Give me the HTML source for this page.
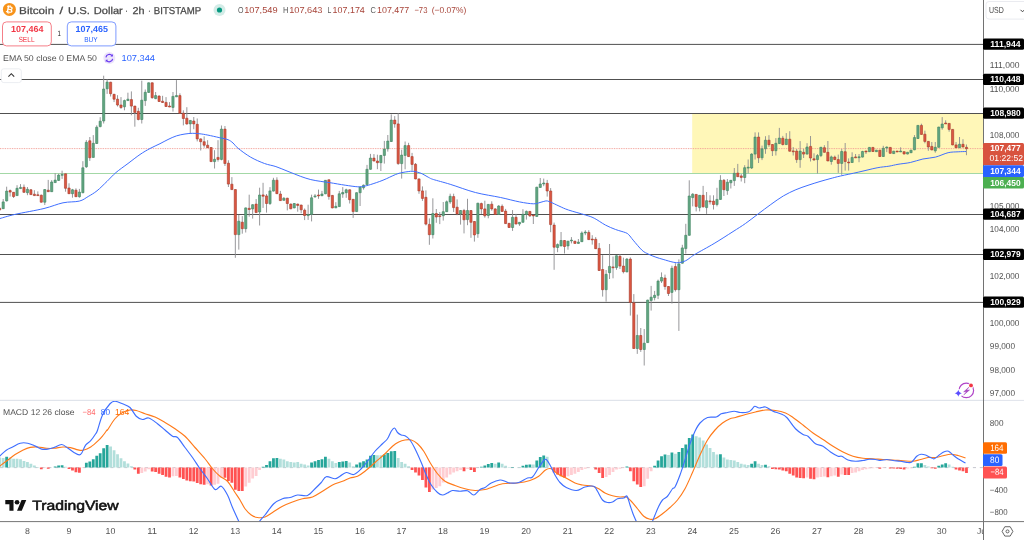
<!DOCTYPE html><html><head><meta charset="utf-8"><title>BTCUSD</title><style>html,body{margin:0;padding:0;background:#fff}svg{display:block;will-change:transform}text{text-rendering:geometricPrecision}</style></head><body>
<svg width="1024" height="540" viewBox="0 0 1024 540" font-family="Liberation Sans, sans-serif">
<defs><clipPath id="cm"><rect x="0" y="0" width="983" height="400"/></clipPath><clipPath id="cd"><rect x="0" y="401" width="983" height="120.5"/></clipPath></defs>
<rect width="1024" height="540" fill="#fff"/>
<g clip-path="url(#cm)">
<rect x="692.2" y="114" width="292" height="59.4" fill="#fff7b8"/>
<line x1="0" x2="984" y1="44.4" y2="44.4" stroke="#505050" stroke-width="1"/>
<line x1="0" x2="984" y1="79.5" y2="79.5" stroke="#505050" stroke-width="1"/>
<line x1="0" x2="984" y1="113.5" y2="113.5" stroke="#505050" stroke-width="1"/>
<line x1="0" x2="984" y1="214.5" y2="214.5" stroke="#505050" stroke-width="1"/>
<line x1="0" x2="984" y1="254.5" y2="254.5" stroke="#505050" stroke-width="1"/>
<line x1="0" x2="984" y1="302.4" y2="302.4" stroke="#505050" stroke-width="1"/>
<line x1="0" x2="984" y1="173.5" y2="173.5" stroke="#a3d8a6" stroke-width="1.2"/>
<line x1="0" x2="984" y1="148.6" y2="148.6" stroke="#f19a92" stroke-width="1" stroke-dasharray="0.85 0.87"/>
<path d="M-0.28 207.0V211.0M3.19 199.0V209.0M6.65 186.7V201.5M10.11 189.5V196.5M13.58 192.0V198.0M17.05 185.2V196.0M20.51 184.1V189.0M23.97 184.5V193.0M27.44 187.0V195.2M30.91 189.0V195.0M34.37 190.2V196.0M37.83 191.4V196.0M41.30 194.6V202.5M44.77 189.0V205.0M48.23 179.9V192.0M51.69 180.1V192.0M55.16 173.2V183.0M58.62 173.8V181.0M62.09 170.7V178.9M65.55 173.5V191.7M69.02 183.3V194.0M72.48 188.9V197.7M75.95 188.3V197.0M79.41 188.9V197.7M82.88 161.2V193.3M86.34 140.1V167.9M89.81 137.0V160.9M93.27 135.1V157.6M96.74 125.3V144.0M100.20 117.2V127.3M103.67 75.7V123.5M107.13 79.4V93.9M110.60 81.8V96.5M114.06 93.9V102.1M117.53 95.2V106.5M120.99 97.1V108.9M124.46 99.6V110.3M127.92 92.7V101.0M131.39 91.4V115.3M134.85 105.8V126.7M138.32 107.8V120.4M141.78 80.7V123.5M145.25 89.5V105.9M148.71 82.5V93.0M152.18 82.5V98.7M155.64 92.0V99.2M159.11 95.2V102.0M162.57 95.8V103.0M166.04 97.1V107.0M169.50 102.1V107.2M172.97 92.0V111.6M176.44 80.1V97.1M179.90 93.3V113.5M183.37 110.3V125.4M186.83 107.2V124.8M190.29 120.0V133.0M193.76 117.0V129.2M197.22 118.5V141.4M200.69 138.3V150.5M204.15 136.4V147.7M207.62 140.2V148.0M211.08 147.2V162.0M214.55 150.2V168.5M218.01 140.2V161.6M221.48 125.5V160.3M224.94 126.0V166.0M228.41 160.3V187.0M231.88 177.1V190.0M235.34 189.3V257.8M238.80 214.8V249.6M242.27 216.1V233.7M245.73 207.5V232.5M249.20 194.7V216.7M252.66 204.2V218.6M256.13 199.1V213.0M259.60 187.7V225.5M263.06 182.8V207.9M266.52 194.0V212.6M269.99 187.1V205.0M273.45 177.8V191.5M276.92 177.3V194.0M280.38 190.9V201.0M283.85 197.2V200.8M287.31 197.8V210.4M290.78 203.5V209.2M294.25 203.0V208.3M297.71 203.6V211.7M301.17 204.6V213.3M304.64 208.5V220.1M308.11 204.7V219.9M311.57 194.7V221.4M315.03 194.0V197.8M318.50 189.6V198.8M321.96 190.9V196.2M325.43 180.0V194.2M328.89 179.5V199.7M332.36 195.0V208.3M335.82 202.2V208.2M339.29 190.9V207.0M342.75 187.1V197.8M346.22 188.7V197.8M349.68 189.4V203.5M353.15 199.0V217.9M356.62 192.3V212.0M360.08 186.7V206.0M363.54 184.5V189.6M367.01 164.9V185.0M370.48 153.9V169.7M373.94 154.1V161.4M377.40 154.7V169.2M380.87 155.0V171.0M384.34 140.9V163.6M387.80 135.0V151.6M391.26 114.4V142.0M394.73 116.1V127.7M398.19 113.2V164.8M401.66 149.7V178.6M405.12 141.5V169.3M408.59 142.8V157.0M412.05 152.9V170.7M415.52 163.0V179.3M418.99 178.5V193.8M422.45 186.4V200.9M425.91 190.4V225.4M429.38 218.4V244.8M432.85 198.3V238.5M436.31 209.0V222.8M439.77 212.0V224.1M443.24 202.0V220.6M446.70 200.5V212.0M450.17 193.7V203.8M453.63 193.7V212.0M457.10 199.4V215.2M460.56 210.0V224.6M464.03 208.9V233.4M467.50 198.8V225.2M470.96 210.0V237.8M474.42 221.0V241.6M477.89 202.8V237.8M481.36 202.6V213.9M484.82 200.7V217.7M488.28 204.0V218.3M491.75 201.3V210.7M495.22 208.2V215.0M498.68 205.1V215.0M502.14 204.4V211.8M505.61 208.9V224.0M509.07 223.0V228.0M512.54 210.1V230.9M516.00 213.9V224.4M519.47 222.0V225.9M522.93 209.2V222.7M526.40 210.5V219.6M529.87 211.0V217.0M533.33 214.8V224.0M536.79 186.8V216.8M540.26 178.0V187.8M543.73 178.6V186.2M547.19 179.9V196.6M550.65 188.1V232.2M554.12 222.6V269.8M557.58 243.4V252.2M561.05 232.0V246.3M564.51 240.0V253.5M567.98 240.8V249.7M571.44 237.1V243.4M574.91 240.8V243.8M578.38 239.0V243.8M581.84 231.4V242.0M585.30 230.2V235.2M588.77 230.2V240.0M592.24 235.2V244.6M595.70 237.1V249.0M599.16 243.0V271.0M602.63 255.2V296.6M606.10 270.0V301.6M609.56 244.0V279.0M613.02 256.5V278.3M616.49 255.3V269.8M619.95 254.3V269.0M623.42 257.7V273.4M626.88 258.0V272.3M630.35 257.4V315.6M633.82 294.1V348.9M637.28 314.6V353.9M640.75 328.0V351.9M644.21 329.0V365.5M647.67 299.7V343.0M651.14 285.9V310.6M654.61 290.9V300.4M658.07 279.6V299.1M661.53 272.4V283.0M665.00 274.6V289.7M668.47 286.0V296.0M671.93 265.7V303.5M675.39 263.2V291.6M678.86 259.4V330.9M682.33 244.8V263.6M685.79 223.8V253.6M689.25 180.3V235.7M692.72 193.1V206.4M696.18 194.0V211.4M699.65 195.0V211.4M703.12 185.9V207.6M706.58 192.0V213.9M710.04 195.3V204.5M713.51 195.3V209.5M716.98 187.8V206.4M720.44 175.2V199.8M723.90 179.0V196.0M727.37 179.0V194.8M730.84 180.0V188.5M734.30 168.0V185.9M737.76 163.9V177.0M741.23 174.0V181.5M744.70 165.2V183.2M748.16 159.5V173.3M751.62 153.2V169.0M755.09 132.4V159.5M758.55 132.4V163.0M762.02 145.6V160.1M765.49 136.2V153.8M768.95 135.2V146.9M772.41 144.0V156.0M775.88 138.1V155.5M779.35 127.9V144.0M782.81 135.9V145.5M786.27 133.1V145.0M789.74 131.2V151.6M793.21 147.1V155.5M796.67 149.0V162.9M800.13 141.1V167.8M803.60 148.8V158.0M807.06 143.2V154.5M810.53 136.0V161.5M814.00 153.3V160.9M817.46 154.0V173.5M820.92 146.9V157.1M824.39 145.2V152.7M827.86 141.0V161.3M831.32 155.6V164.7M834.78 155.6V160.0M838.25 154.6V172.9M841.72 148.9V174.8M845.18 143.0V170.6M848.64 158.4V170.6M852.11 152.3V162.9M855.58 154.0V158.1M859.04 154.0V162.2M862.50 150.8V157.5M865.97 150.8V154.0M869.43 147.0V152.0M872.90 147.0V152.0M876.37 149.8V152.0M879.83 149.8V156.9M883.29 145.8V156.9M886.76 146.4V152.1M890.23 147.0V153.7M893.69 150.8V154.0M897.15 150.8V152.2M900.62 147.3V152.1M904.09 151.3V154.4M907.55 151.9V154.4M911.01 149.8V153.1M914.48 135.1V150.2M917.94 125.0V139.0M921.41 123.7V134.8M924.88 130.7V143.3M928.34 141.0V150.8M931.80 142.0V150.3M935.27 142.0V152.7M938.74 126.7V147.7M942.20 117.1V129.7M945.66 120.3V124.0M949.13 123.0V131.7M952.60 129.0V145.3M956.06 142.0V148.1M959.52 137.0V148.1M962.99 139.2V147.4M966.46 144.5V155.2" stroke="#8c8c90" stroke-width="0.9" fill="none"/>
<path d="M2.09 201.9h2.2V208.7h-2.2zM5.55 191.1h2.2V200.9h-2.2zM15.95 188.3h2.2V195.6h-2.2zM19.41 187.4h2.2V188.6h-2.2zM26.34 189.3h2.2V192.7h-2.2zM43.66 189.6h2.2V202.2h-2.2zM50.59 182.0h2.2V191.7h-2.2zM54.06 180.1h2.2V182.6h-2.2zM57.52 175.1h2.2V180.4h-2.2zM60.99 174.4h2.2V175.3h-2.2zM71.39 189.8h2.2V193.7h-2.2zM78.31 192.1h2.2V196.7h-2.2zM81.78 167.8h2.2V192.7h-2.2zM85.25 142.3h2.2V166.8h-2.2zM92.17 143.3h2.2V157.4h-2.2zM95.64 127.2h2.2V143.5h-2.2zM99.11 121.2h2.2V126.6h-2.2zM102.57 89.0h2.2V121.0h-2.2zM106.03 82.1h2.2V88.8h-2.2zM123.36 100.6h2.2V106.8h-2.2zM126.83 99.2h2.2V100.6h-2.2zM140.69 100.2h2.2V119.5h-2.2zM144.15 92.3h2.2V100.6h-2.2zM147.61 82.8h2.2V92.4h-2.2zM154.54 95.6h2.2V98.6h-2.2zM171.87 96.4h2.2V107.4h-2.2zM175.34 95.6h2.2V96.8h-2.2zM189.19 120.4h2.2V123.9h-2.2zM213.45 159.3h2.2V161.6h-2.2zM220.38 129.1h2.2V159.4h-2.2zM237.70 221.2h2.2V234.6h-2.2zM244.63 207.9h2.2V228.7h-2.2zM251.56 204.7h2.2V208.9h-2.2zM258.50 195.0h2.2V212.0h-2.2zM268.89 190.9h2.2V203.5h-2.2zM272.35 180.2h2.2V191.1h-2.2zM282.75 198.2h2.2V200.3h-2.2zM293.14 203.5h2.2V207.9h-2.2zM307.00 214.6h2.2V215.6h-2.2zM310.47 197.8h2.2V214.4h-2.2zM313.93 195.9h2.2V196.8h-2.2zM320.86 194.0h2.2V195.7h-2.2zM324.33 180.3h2.2V193.8h-2.2zM334.72 206.3h2.2V207.8h-2.2zM338.19 193.8h2.2V206.6h-2.2zM341.65 192.5h2.2V194.0h-2.2zM345.12 189.8h2.2V192.7h-2.2zM355.51 192.7h2.2V211.6h-2.2zM358.98 187.1h2.2V192.7h-2.2zM362.44 185.2h2.2V187.7h-2.2zM365.91 169.3h2.2V184.6h-2.2zM369.38 158.1h2.2V169.3h-2.2zM379.77 155.4h2.2V162.7h-2.2zM383.24 149.1h2.2V155.4h-2.2zM386.70 141.1h2.2V148.8h-2.2zM390.16 120.1h2.2V141.5h-2.2zM400.56 155.1h2.2V163.6h-2.2zM404.02 145.6h2.2V155.4h-2.2zM431.75 213.6h2.2V234.7h-2.2zM442.14 211.7h2.2V215.7h-2.2zM445.60 201.8h2.2V211.7h-2.2zM449.07 196.3h2.2V201.9h-2.2zM459.46 210.5h2.2V213.9h-2.2zM466.39 210.5h2.2V219.6h-2.2zM476.79 203.2h2.2V233.7h-2.2zM487.18 204.4h2.2V215.5h-2.2zM497.58 206.0h2.2V214.5h-2.2zM511.44 217.3h2.2V227.5h-2.2zM518.37 222.3h2.2V224.0h-2.2zM521.83 214.3h2.2V222.3h-2.2zM525.30 211.4h2.2V214.5h-2.2zM535.69 187.2h2.2V216.4h-2.2zM539.16 184.0h2.2V187.4h-2.2zM542.62 183.0h2.2V184.0h-2.2zM556.48 244.6h2.2V247.5h-2.2zM559.95 240.5h2.2V245.9h-2.2zM566.88 241.2h2.2V245.9h-2.2zM570.34 240.1h2.2V240.9h-2.2zM577.27 242.1h2.2V243.4h-2.2zM580.74 233.0h2.2V241.7h-2.2zM584.20 232.1h2.2V233.0h-2.2zM605.00 274.3h2.2V289.7h-2.2zM608.46 266.4h2.2V272.7h-2.2zM615.39 255.7h2.2V267.6h-2.2zM625.78 259.1h2.2V271.9h-2.2zM636.18 335.5h2.2V348.5h-2.2zM643.11 343.2h2.2V349.5h-2.2zM646.57 300.1h2.2V342.6h-2.2zM650.04 297.2h2.2V300.4h-2.2zM653.50 295.3h2.2V297.6h-2.2zM656.97 281.1h2.2V295.3h-2.2zM660.43 277.5h2.2V281.1h-2.2zM670.83 268.3h2.2V292.4h-2.2zM677.76 263.9h2.2V289.7h-2.2zM681.23 247.9h2.2V263.2h-2.2zM684.69 235.3h2.2V248.6h-2.2zM688.15 196.0h2.2V235.3h-2.2zM691.62 194.2h2.2V197.6h-2.2zM698.55 195.3h2.2V207.6h-2.2zM705.48 200.7h2.2V207.6h-2.2zM715.88 199.4h2.2V204.5h-2.2zM719.34 180.3h2.2V199.4h-2.2zM726.27 182.2h2.2V190.6h-2.2zM729.74 180.3h2.2V182.8h-2.2zM733.20 173.3h2.2V180.6h-2.2zM743.60 167.7h2.2V177.5h-2.2zM747.06 167.2h2.2V168.1h-2.2zM750.52 154.1h2.2V168.0h-2.2zM753.99 137.1h2.2V154.1h-2.2zM760.92 148.8h2.2V157.8h-2.2zM764.38 140.2h2.2V148.8h-2.2zM774.78 143.3h2.2V150.7h-2.2zM778.25 138.1h2.2V143.6h-2.2zM785.17 139.1h2.2V144.6h-2.2zM799.03 151.1h2.2V159.6h-2.2zM805.96 147.0h2.2V154.1h-2.2zM816.36 155.6h2.2V159.6h-2.2zM819.82 147.3h2.2V155.6h-2.2zM830.22 156.9h2.2V161.5h-2.2zM840.62 151.5h2.2V163.4h-2.2zM851.01 157.4h2.2V162.5h-2.2zM857.94 156.8h2.2V157.7h-2.2zM861.40 151.5h2.2V157.1h-2.2zM868.33 147.4h2.2V151.7h-2.2zM875.26 150.2h2.2V151.7h-2.2zM882.19 148.3h2.2V156.5h-2.2zM885.66 147.1h2.2V148.0h-2.2zM892.59 151.2h2.2V153.6h-2.2zM899.52 151.0h2.2V151.9h-2.2zM906.45 152.3h2.2V154.0h-2.2zM909.91 150.2h2.2V152.7h-2.2zM913.38 137.6h2.2V149.8h-2.2zM916.84 125.4h2.2V138.5h-2.2zM934.17 147.3h2.2V150.8h-2.2zM937.63 127.1h2.2V147.3h-2.2zM941.10 124.0h2.2V127.8h-2.2zM958.42 144.3h2.2V147.7h-2.2z" fill="#62a682" stroke="#3f8461" stroke-width="0.6"/>
<path d="M-1.38 208.5h2.2V209.7h-2.2zM9.01 190.6h2.2V192.1h-2.2zM12.48 192.3h2.2V196.5h-2.2zM22.87 187.3h2.2V192.3h-2.2zM29.80 189.8h2.2V194.6h-2.2zM33.27 194.2h2.2V195.6h-2.2zM36.73 194.8h2.2V195.6h-2.2zM40.20 195.2h2.2V202.2h-2.2zM47.13 190.2h2.2V191.7h-2.2zM64.45 173.8h2.2V188.3h-2.2zM67.92 188.0h2.2V193.7h-2.2zM74.85 190.2h2.2V196.7h-2.2zM88.71 140.8h2.2V157.8h-2.2zM109.50 82.2h2.2V93.7h-2.2zM112.97 94.3h2.2V99.2h-2.2zM116.43 99.2h2.2V105.0h-2.2zM119.89 105.0h2.2V107.5h-2.2zM130.29 99.6h2.2V106.1h-2.2zM133.75 106.1h2.2V112.4h-2.2zM137.22 111.3h2.2V119.5h-2.2zM151.08 82.8h2.2V97.7h-2.2zM158.01 96.1h2.2V101.5h-2.2zM161.47 101.2h2.2V102.5h-2.2zM164.94 102.4h2.2V106.5h-2.2zM168.41 106.0h2.2V107.0h-2.2zM178.80 95.6h2.2V113.2h-2.2zM182.27 113.2h2.2V118.5h-2.2zM185.73 118.2h2.2V123.9h-2.2zM192.66 121.0h2.2V123.9h-2.2zM196.12 124.3h2.2V138.9h-2.2zM199.59 138.9h2.2V141.7h-2.2zM203.05 141.7h2.2V145.2h-2.2zM206.52 145.2h2.2V147.7h-2.2zM209.98 147.5h2.2V161.6h-2.2zM216.91 157.4h2.2V159.4h-2.2zM223.84 129.1h2.2V163.5h-2.2zM227.31 163.2h2.2V184.1h-2.2zM230.78 184.2h2.2V189.6h-2.2zM234.24 189.6h2.2V234.6h-2.2zM241.17 222.2h2.2V228.7h-2.2zM248.10 208.3h2.2V209.5h-2.2zM255.03 204.1h2.2V212.6h-2.2zM261.96 194.9h2.2V196.2h-2.2zM265.42 195.9h2.2V203.5h-2.2zM275.82 180.2h2.2V193.7h-2.2zM279.28 194.0h2.2V200.6h-2.2zM286.21 198.2h2.2V203.5h-2.2zM289.68 204.1h2.2V208.8h-2.2zM296.61 204.1h2.2V205.4h-2.2zM300.07 205.1h2.2V209.8h-2.2zM303.54 210.2h2.2V215.5h-2.2zM317.40 195.0h2.2V195.9h-2.2zM327.79 179.8h2.2V196.4h-2.2zM331.26 195.4h2.2V207.9h-2.2zM348.58 189.8h2.2V199.7h-2.2zM352.05 199.3h2.2V211.6h-2.2zM372.84 158.1h2.2V161.0h-2.2zM376.30 161.0h2.2V162.7h-2.2zM393.63 120.1h2.2V123.9h-2.2zM397.09 123.9h2.2V163.6h-2.2zM407.49 145.6h2.2V156.6h-2.2zM410.95 156.6h2.2V164.4h-2.2zM414.42 164.3h2.2V178.9h-2.2zM417.88 178.9h2.2V190.9h-2.2zM421.35 190.9h2.2V198.4h-2.2zM424.81 197.3h2.2V224.1h-2.2zM428.28 224.4h2.2V234.7h-2.2zM435.21 213.6h2.2V217.0h-2.2zM438.67 215.8h2.2V216.6h-2.2zM452.53 196.6h2.2V207.6h-2.2zM456.00 207.2h2.2V213.9h-2.2zM462.93 210.5h2.2V219.8h-2.2zM469.86 210.5h2.2V222.3h-2.2zM473.32 221.5h2.2V234.9h-2.2zM480.25 203.6h2.2V208.9h-2.2zM483.72 208.9h2.2V215.8h-2.2zM490.65 204.2h2.2V208.9h-2.2zM494.12 208.9h2.2V214.5h-2.2zM501.04 206.3h2.2V211.4h-2.2zM504.51 211.1h2.2V223.6h-2.2zM507.97 223.3h2.2V227.5h-2.2zM514.90 217.3h2.2V224.0h-2.2zM528.76 211.4h2.2V215.8h-2.2zM532.23 215.1h2.2V215.9h-2.2zM546.09 183.3h2.2V191.0h-2.2zM549.55 191.0h2.2V224.6h-2.2zM553.02 225.1h2.2V247.2h-2.2zM563.41 240.5h2.2V246.5h-2.2zM573.81 241.2h2.2V243.4h-2.2zM587.67 232.4h2.2V239.6h-2.2zM591.13 239.1h2.2V239.9h-2.2zM594.60 239.3h2.2V248.7h-2.2zM598.06 248.4h2.2V270.5h-2.2zM601.53 269.5h2.2V289.7h-2.2zM611.92 266.9h2.2V267.8h-2.2zM618.85 256.3h2.2V266.1h-2.2zM622.32 266.1h2.2V271.7h-2.2zM629.25 259.1h2.2V302.4h-2.2zM632.72 302.8h2.2V348.5h-2.2zM639.64 335.5h2.2V349.5h-2.2zM663.90 278.0h2.2V286.5h-2.2zM667.37 286.5h2.2V293.5h-2.2zM674.29 266.6h2.2V289.7h-2.2zM695.08 194.4h2.2V206.4h-2.2zM702.01 195.3h2.2V206.8h-2.2zM708.94 200.9h2.2V201.8h-2.2zM712.41 201.1h2.2V204.5h-2.2zM722.80 180.3h2.2V189.7h-2.2zM736.66 173.1h2.2V176.7h-2.2zM740.13 175.9h2.2V177.4h-2.2zM757.45 137.1h2.2V157.8h-2.2zM767.85 140.2h2.2V144.7h-2.2zM771.31 144.5h2.2V150.7h-2.2zM781.71 138.2h2.2V144.5h-2.2zM788.64 139.2h2.2V151.2h-2.2zM792.11 150.9h2.2V151.8h-2.2zM795.57 151.1h2.2V159.6h-2.2zM802.50 152.3h2.2V154.1h-2.2zM809.43 146.4h2.2V158.0h-2.2zM812.89 158.8h2.2V159.9h-2.2zM823.29 147.7h2.2V152.3h-2.2zM826.75 152.3h2.2V160.9h-2.2zM833.68 157.1h2.2V159.6h-2.2zM837.15 159.6h2.2V163.4h-2.2zM844.08 151.7h2.2V161.5h-2.2zM847.54 162.1h2.2V162.9h-2.2zM854.48 156.9h2.2V157.8h-2.2zM864.87 151.0h2.2V151.9h-2.2zM871.80 147.4h2.2V151.5h-2.2zM878.73 150.2h2.2V156.5h-2.2zM889.12 147.4h2.2V153.3h-2.2zM896.05 151.1h2.2V151.9h-2.2zM902.99 151.7h2.2V154.0h-2.2zM920.31 125.4h2.2V134.4h-2.2zM923.77 134.2h2.2V141.4h-2.2zM927.24 141.4h2.2V147.0h-2.2zM930.70 146.4h2.2V149.9h-2.2zM944.56 123.0h2.2V123.9h-2.2zM948.03 123.4h2.2V129.4h-2.2zM951.50 129.4h2.2V144.9h-2.2zM954.96 144.9h2.2V147.7h-2.2zM961.89 144.3h2.2V147.0h-2.2zM965.36 147.3h2.2V148.7h-2.2z" fill="#dc5742" stroke="#a83a2a" stroke-width="0.6"/>
<path fill="none" stroke="#3f6fff" stroke-width="1" stroke-linejoin="round" d="M-2.00 219.00C-1.67 218.92 -2.83 219.27 0.00 218.50C2.83 217.73 7.67 216.07 15.00 214.40C22.33 212.73 36.00 210.43 44.00 208.50C52.00 206.57 57.12 204.03 63.00 202.80C68.88 201.57 75.10 202.15 79.30 201.10C83.50 200.05 85.25 198.22 88.20 196.50C91.15 194.78 93.87 193.32 97.00 190.80C100.13 188.28 103.85 184.43 107.00 181.40C110.15 178.37 112.40 175.58 115.90 172.60C119.40 169.62 123.98 166.52 128.00 163.50C132.02 160.48 136.33 157.00 140.00 154.50C143.67 152.00 146.67 150.30 150.00 148.50C153.33 146.70 157.00 145.20 160.00 143.70C163.00 142.20 165.27 140.80 168.00 139.50C170.73 138.20 173.57 136.82 176.40 135.90C179.23 134.98 182.28 134.43 185.00 134.00C187.72 133.57 190.20 133.33 192.70 133.30C195.20 133.27 197.47 133.50 200.00 133.80C202.53 134.10 204.70 134.47 207.90 135.10C211.10 135.73 215.85 136.83 219.20 137.60C222.55 138.37 225.70 138.80 228.00 139.70C230.30 140.60 231.32 141.57 233.00 143.00C234.68 144.43 235.15 145.93 238.10 148.30C241.05 150.67 246.30 154.67 250.70 157.20C255.10 159.73 260.30 161.93 264.50 163.50C268.70 165.07 271.98 165.28 275.90 166.60C279.82 167.92 283.87 169.77 288.00 171.40C292.13 173.03 296.90 175.03 300.70 176.40C304.50 177.77 307.45 178.77 310.80 179.60C314.15 180.43 317.60 180.88 320.80 181.40C324.00 181.92 325.93 182.07 330.00 182.70C334.07 183.33 340.57 184.52 345.20 185.20C349.83 185.88 354.67 186.63 357.80 186.80C360.93 186.97 361.90 186.57 364.00 186.20C366.10 185.83 367.23 185.60 370.40 184.60C373.57 183.60 378.80 181.88 383.00 180.20C387.20 178.52 392.43 175.77 395.60 174.50C398.77 173.23 399.90 173.08 402.00 172.60C404.10 172.12 406.33 171.82 408.20 171.60C410.07 171.38 411.10 171.03 413.20 171.30C415.30 171.57 418.20 172.17 420.80 173.20C423.40 174.23 426.70 176.45 428.80 177.50C430.90 178.55 429.83 178.37 433.40 179.50C436.97 180.63 443.20 182.13 450.20 184.30C457.20 186.47 467.00 190.30 475.40 192.50C483.80 194.70 493.25 195.93 500.60 197.50C507.95 199.07 514.05 200.85 519.50 201.90C524.95 202.95 529.88 203.70 533.30 203.80C536.72 203.90 537.90 202.98 540.00 202.50C542.10 202.02 544.40 201.07 545.90 200.90C547.40 200.73 547.82 201.12 549.00 201.50C550.18 201.88 551.17 202.37 553.00 203.20C554.83 204.03 557.43 205.37 560.00 206.50C562.57 207.63 564.17 208.58 568.40 210.00C572.63 211.42 581.10 213.63 585.40 215.00C589.70 216.37 590.85 216.52 594.20 218.20C597.55 219.88 601.93 223.22 605.50 225.10C609.07 226.98 612.23 228.23 615.60 229.50C618.97 230.77 623.47 231.78 625.70 232.70C627.93 233.62 627.75 233.75 629.00 235.00C630.25 236.25 631.02 237.65 633.20 240.20C635.38 242.75 639.57 247.98 642.10 250.30C644.63 252.62 646.10 252.95 648.40 254.10C650.70 255.25 653.45 256.32 655.90 257.20C658.35 258.08 660.22 258.57 663.10 259.40C665.98 260.23 670.47 261.67 673.20 262.20C675.93 262.73 677.40 262.85 679.50 262.60C681.60 262.35 684.05 261.50 685.80 260.70C687.55 259.90 688.43 258.88 690.00 257.80C691.57 256.72 691.18 256.58 695.20 254.20C699.22 251.82 707.80 247.27 714.10 243.50C720.40 239.73 727.75 234.95 733.00 231.60C738.25 228.25 741.40 226.35 745.60 223.40C749.80 220.45 754.00 217.05 758.20 213.90C762.40 210.75 766.60 207.50 770.80 204.50C775.00 201.50 779.22 198.37 783.40 195.90C787.58 193.43 791.80 191.47 795.90 189.70C800.00 187.93 803.98 186.67 808.00 185.30C812.02 183.93 816.33 182.60 820.00 181.50C823.67 180.40 826.58 179.62 830.00 178.70C833.42 177.78 835.80 177.08 840.50 176.00C845.20 174.92 852.10 173.57 858.20 172.20C864.30 170.83 871.98 168.80 877.10 167.80C882.22 166.80 885.42 166.78 888.90 166.20C892.38 165.62 894.43 164.92 898.00 164.30C901.57 163.68 906.15 163.38 910.30 162.50C914.45 161.62 918.70 159.90 922.90 159.00C927.10 158.10 931.30 158.15 935.50 157.10C939.70 156.05 944.32 153.58 948.10 152.70C951.88 151.82 955.22 152.00 958.20 151.80C961.18 151.60 964.70 151.55 966.00 151.50"/>
</g>
<g clip-path="url(#cd)">
<line x1="0" x2="984" y1="467.6" y2="467.6" stroke="#bfc1c8" stroke-width="0.9" stroke-dasharray="3.1 3.8"/>
<path d="M5.25 456.70h2.8V467.50h-2.8zM53.76 466.50h2.8V467.50h-2.8zM57.23 465.60h2.8V467.50h-2.8zM60.69 465.30h2.8V467.50h-2.8zM84.94 462.70h2.8V467.50h-2.8zM88.41 461.50h2.8V467.50h-2.8zM91.87 459.20h2.8V467.50h-2.8zM95.34 455.80h2.8V467.50h-2.8zM98.80 453.30h2.8V467.50h-2.8zM102.27 448.30h2.8V467.50h-2.8zM105.73 445.10h2.8V467.50h-2.8zM261.66 466.75h2.8V467.50h-2.8zM265.12 465.00h2.8V467.50h-2.8zM268.59 461.25h2.8V467.50h-2.8zM272.06 458.25h2.8V467.50h-2.8zM275.52 458.00h2.8V467.50h-2.8zM310.17 462.50h2.8V467.50h-2.8zM313.63 461.25h2.8V467.50h-2.8zM317.10 460.00h2.8V467.50h-2.8zM320.56 459.25h2.8V467.50h-2.8zM324.03 456.75h2.8V467.50h-2.8zM337.89 462.00h2.8V467.50h-2.8zM341.36 461.50h2.8V467.50h-2.8zM344.82 461.00h2.8V467.50h-2.8zM355.22 464.50h2.8V467.50h-2.8zM358.68 462.50h2.8V467.50h-2.8zM362.14 461.25h2.8V467.50h-2.8zM365.61 459.50h2.8V467.50h-2.8zM369.08 455.75h2.8V467.50h-2.8zM372.54 455.00h2.8V467.50h-2.8zM382.94 454.50h2.8V467.50h-2.8zM386.40 453.00h2.8V467.50h-2.8zM389.87 451.25h2.8V467.50h-2.8zM393.33 451.00h2.8V467.50h-2.8zM479.96 466.75h2.8V467.50h-2.8zM483.42 465.50h2.8V467.50h-2.8zM486.88 464.00h2.8V467.50h-2.8zM490.35 463.00h2.8V467.50h-2.8zM497.28 462.50h2.8V467.50h-2.8zM511.14 467.00h2.8V467.50h-2.8zM521.53 465.75h2.8V467.50h-2.8zM525.00 464.75h2.8V467.50h-2.8zM528.47 464.50h2.8V467.50h-2.8zM535.39 460.50h2.8V467.50h-2.8zM538.86 457.00h2.8V467.50h-2.8zM542.33 455.50h2.8V467.50h-2.8zM625.49 466.50h2.8V467.50h-2.8zM653.21 465.75h2.8V467.50h-2.8zM656.67 460.50h2.8V467.50h-2.8zM660.13 456.25h2.8V467.50h-2.8zM663.60 454.50h2.8V467.50h-2.8zM670.53 452.50h2.8V467.50h-2.8zM677.46 452.00h2.8V467.50h-2.8zM680.93 448.00h2.8V467.50h-2.8zM684.39 444.50h2.8V467.50h-2.8zM687.86 438.00h2.8V467.50h-2.8zM691.32 434.50h2.8V467.50h-2.8zM719.04 454.30h2.8V467.50h-2.8zM750.23 463.75h2.8V467.50h-2.8zM753.69 461.25h2.8V467.50h-2.8zM764.09 464.80h2.8V467.50h-2.8zM913.08 466.75h2.8V467.50h-2.8zM916.54 463.25h2.8V467.50h-2.8zM920.01 463.20h2.8V467.50h-2.8zM937.34 465.75h2.8V467.50h-2.8zM940.80 464.50h2.8V467.50h-2.8zM944.26 463.25h2.8V467.50h-2.8z" fill="#26a69a"/>
<path d="M-1.68 457.50h2.8V467.50h-2.8zM1.79 458.00h2.8V467.50h-2.8zM8.71 457.50h2.8V467.50h-2.8zM12.18 458.70h2.8V467.50h-2.8zM15.65 458.70h2.8V467.50h-2.8zM19.11 459.20h2.8V467.50h-2.8zM22.57 460.90h2.8V467.50h-2.8zM26.04 462.10h2.8V467.50h-2.8zM29.51 463.75h2.8V467.50h-2.8zM32.97 465.50h2.8V467.50h-2.8zM36.43 466.90h2.8V467.50h-2.8zM64.15 466.80h2.8V467.50h-2.8zM109.20 446.40h2.8V467.50h-2.8zM112.66 450.20h2.8V467.50h-2.8zM116.13 454.20h2.8V467.50h-2.8zM119.59 458.30h2.8V467.50h-2.8zM123.06 461.20h2.8V467.50h-2.8zM126.52 463.40h2.8V467.50h-2.8zM129.99 466.25h2.8V467.50h-2.8zM278.99 458.75h2.8V467.50h-2.8zM282.45 459.50h2.8V467.50h-2.8zM285.92 461.25h2.8V467.50h-2.8zM289.38 462.00h2.8V467.50h-2.8zM292.85 462.50h2.8V467.50h-2.8zM296.31 462.00h2.8V467.50h-2.8zM299.77 463.75h2.8V467.50h-2.8zM303.24 464.50h2.8V467.50h-2.8zM306.71 465.50h2.8V467.50h-2.8zM327.50 458.75h2.8V467.50h-2.8zM330.96 461.25h2.8V467.50h-2.8zM334.43 463.00h2.8V467.50h-2.8zM348.28 462.50h2.8V467.50h-2.8zM351.75 466.25h2.8V467.50h-2.8zM376.00 455.20h2.8V467.50h-2.8zM379.47 455.20h2.8V467.50h-2.8zM396.79 458.00h2.8V467.50h-2.8zM400.26 462.00h2.8V467.50h-2.8zM403.73 463.75h2.8V467.50h-2.8zM407.19 466.25h2.8V467.50h-2.8zM493.82 463.75h2.8V467.50h-2.8zM500.75 463.75h2.8V467.50h-2.8zM504.21 465.75h2.8V467.50h-2.8zM507.67 467.00h2.8V467.50h-2.8zM518.07 467.00h2.8V467.50h-2.8zM531.93 464.60h2.8V467.50h-2.8zM545.79 456.75h2.8V467.50h-2.8zM667.07 455.00h2.8V467.50h-2.8zM674.00 453.75h2.8V467.50h-2.8zM694.78 436.25h2.8V467.50h-2.8zM698.25 437.50h2.8V467.50h-2.8zM701.72 440.50h2.8V467.50h-2.8zM705.18 444.50h2.8V467.50h-2.8zM708.64 448.00h2.8V467.50h-2.8zM712.11 452.00h2.8V467.50h-2.8zM715.58 454.50h2.8V467.50h-2.8zM722.50 457.50h2.8V467.50h-2.8zM725.97 459.50h2.8V467.50h-2.8zM729.44 460.00h2.8V467.50h-2.8zM732.90 460.50h2.8V467.50h-2.8zM736.37 462.00h2.8V467.50h-2.8zM739.83 463.75h2.8V467.50h-2.8zM743.30 464.50h2.8V467.50h-2.8zM746.76 465.00h2.8V467.50h-2.8zM757.15 463.75h2.8V467.50h-2.8zM760.62 465.00h2.8V467.50h-2.8zM767.55 466.25h2.8V467.50h-2.8zM923.48 465.00h2.8V467.50h-2.8zM926.94 466.50h2.8V467.50h-2.8zM947.73 464.50h2.8V467.50h-2.8zM951.20 466.75h2.8V467.50h-2.8z" fill="#b2dfdb"/>
<path d="M39.90 467.50h2.8V469.30h-2.8zM46.83 467.50h2.8V468.70h-2.8zM67.62 467.50h2.8V469.00h-2.8zM71.08 467.50h2.8V470.60h-2.8zM74.55 467.50h2.8V472.20h-2.8zM78.01 467.50h2.8V472.80h-2.8zM133.45 467.50h2.8V469.60h-2.8zM136.92 467.50h2.8V473.75h-2.8zM150.78 467.50h2.8V471.50h-2.8zM154.24 467.50h2.8V472.10h-2.8zM157.71 467.50h2.8V473.75h-2.8zM161.17 467.50h2.8V475.00h-2.8zM164.64 467.50h2.8V476.80h-2.8zM168.10 467.50h2.8V477.40h-2.8zM178.50 467.50h2.8V477.40h-2.8zM181.97 467.50h2.8V479.00h-2.8zM185.43 467.50h2.8V480.50h-2.8zM188.89 467.50h2.8V481.30h-2.8zM192.36 467.50h2.8V481.40h-2.8zM195.82 467.50h2.8V483.00h-2.8zM199.29 467.50h2.8V484.30h-2.8zM202.75 467.50h2.8V484.70h-2.8zM209.68 467.50h2.8V485.60h-2.8zM223.54 467.50h2.8V477.80h-2.8zM227.01 467.50h2.8V480.90h-2.8zM230.47 467.50h2.8V482.80h-2.8zM233.94 467.50h2.8V489.70h-2.8zM237.40 467.50h2.8V491.00h-2.8zM240.87 467.50h2.8V491.10h-2.8zM410.65 467.50h2.8V470.00h-2.8zM414.12 467.50h2.8V472.50h-2.8zM417.59 467.50h2.8V475.50h-2.8zM421.05 467.50h2.8V480.00h-2.8zM424.51 467.50h2.8V487.50h-2.8zM427.98 467.50h2.8V492.00h-2.8zM462.63 467.50h2.8V471.25h-2.8zM469.56 467.50h2.8V470.00h-2.8zM473.02 467.50h2.8V472.00h-2.8zM552.72 467.50h2.8V472.50h-2.8zM556.18 467.50h2.8V474.50h-2.8zM559.65 467.50h2.8V476.25h-2.8zM563.12 467.50h2.8V477.50h-2.8zM594.30 467.50h2.8V469.50h-2.8zM597.76 467.50h2.8V473.00h-2.8zM601.23 467.50h2.8V478.00h-2.8zM628.95 467.50h2.8V471.25h-2.8zM632.42 467.50h2.8V481.25h-2.8zM635.88 467.50h2.8V484.50h-2.8zM639.35 467.50h2.8V487.00h-2.8zM771.01 467.50h2.8V469.00h-2.8zM774.48 467.50h2.8V469.25h-2.8zM777.95 467.50h2.8V469.50h-2.8zM781.41 467.50h2.8V470.50h-2.8zM784.88 467.50h2.8V471.25h-2.8zM788.34 467.50h2.8V473.75h-2.8zM791.81 467.50h2.8V475.50h-2.8zM795.27 467.50h2.8V477.50h-2.8zM798.74 467.50h2.8V478.00h-2.8zM802.20 467.50h2.8V478.25h-2.8zM809.13 467.50h2.8V478.75h-2.8zM812.60 467.50h2.8V479.25h-2.8zM826.46 467.50h2.8V477.30h-2.8zM836.85 467.50h2.8V476.75h-2.8zM843.78 467.50h2.8V475.00h-2.8zM847.25 467.50h2.8V475.00h-2.8zM878.43 467.50h2.8V468.75h-2.8zM888.83 467.50h2.8V468.50h-2.8zM892.29 467.50h2.8V468.60h-2.8zM895.75 467.50h2.8V468.75h-2.8zM899.22 467.50h2.8V469.00h-2.8zM902.69 467.50h2.8V469.50h-2.8zM930.40 467.50h2.8V468.25h-2.8zM933.87 467.50h2.8V468.75h-2.8zM954.66 467.50h2.8V469.50h-2.8zM958.12 467.50h2.8V470.50h-2.8zM961.59 467.50h2.8V471.25h-2.8zM965.06 467.50h2.8V473.00h-2.8z" fill="#ff5252"/>
<path d="M43.37 467.50h2.8V468.10h-2.8zM81.48 467.50h2.8V468.10h-2.8zM140.38 467.50h2.8V473.00h-2.8zM143.85 467.50h2.8V471.50h-2.8zM147.31 467.50h2.8V469.20h-2.8zM171.57 467.50h2.8V476.30h-2.8zM175.03 467.50h2.8V475.90h-2.8zM206.22 467.50h2.8V484.30h-2.8zM213.15 467.50h2.8V484.70h-2.8zM216.61 467.50h2.8V483.80h-2.8zM220.08 467.50h2.8V477.50h-2.8zM244.33 467.50h2.8V486.60h-2.8zM247.80 467.50h2.8V482.80h-2.8zM251.26 467.50h2.8V478.40h-2.8zM254.73 467.50h2.8V475.90h-2.8zM258.20 467.50h2.8V470.00h-2.8zM431.45 467.50h2.8V489.50h-2.8zM434.91 467.50h2.8V488.00h-2.8zM438.38 467.50h2.8V486.25h-2.8zM441.84 467.50h2.8V482.50h-2.8zM445.30 467.50h2.8V477.50h-2.8zM448.77 467.50h2.8V474.50h-2.8zM452.24 467.50h2.8V472.50h-2.8zM455.70 467.50h2.8V471.25h-2.8zM459.16 467.50h2.8V470.00h-2.8zM466.10 467.50h2.8V469.00h-2.8zM566.58 467.50h2.8V476.25h-2.8zM570.04 467.50h2.8V475.00h-2.8zM573.51 467.50h2.8V473.75h-2.8zM576.98 467.50h2.8V472.00h-2.8zM580.44 467.50h2.8V470.00h-2.8zM583.90 467.50h2.8V468.75h-2.8zM587.37 467.50h2.8V468.00h-2.8zM604.70 467.50h2.8V477.00h-2.8zM608.16 467.50h2.8V475.00h-2.8zM611.62 467.50h2.8V472.00h-2.8zM615.09 467.50h2.8V469.50h-2.8zM618.55 467.50h2.8V468.75h-2.8zM622.02 467.50h2.8V468.00h-2.8zM642.81 467.50h2.8V486.25h-2.8zM646.27 467.50h2.8V478.75h-2.8zM649.74 467.50h2.8V471.25h-2.8zM805.66 467.50h2.8V477.50h-2.8zM816.06 467.50h2.8V477.50h-2.8zM819.52 467.50h2.8V477.00h-2.8zM822.99 467.50h2.8V476.50h-2.8zM829.92 467.50h2.8V476.25h-2.8zM833.38 467.50h2.8V475.50h-2.8zM840.32 467.50h2.8V474.60h-2.8zM850.71 467.50h2.8V473.00h-2.8zM854.18 467.50h2.8V472.50h-2.8zM857.64 467.50h2.8V471.25h-2.8zM861.11 467.50h2.8V470.00h-2.8zM864.57 467.50h2.8V469.25h-2.8zM868.03 467.50h2.8V468.50h-2.8zM871.50 467.50h2.8V468.25h-2.8zM874.97 467.50h2.8V468.00h-2.8zM881.89 467.50h2.8V468.00h-2.8zM906.15 467.50h2.8V468.50h-2.8zM909.62 467.50h2.8V468.25h-2.8z" fill="#ffcdd2"/>
<path fill="none" stroke="#ff7a1a" stroke-width="1.15" stroke-linejoin="round" d="M-2.00 467.50C-1.67 467.23 -1.60 467.12 0.00 465.90C1.60 464.68 5.08 462.08 7.60 460.20C10.12 458.32 12.58 456.27 15.10 454.60C17.62 452.93 20.18 451.40 22.70 450.20C25.22 449.00 27.68 447.93 30.20 447.40C32.72 446.87 35.07 446.85 37.80 447.00C40.53 447.15 43.87 448.08 46.60 448.30C49.33 448.52 51.47 448.52 54.20 448.30C56.93 448.08 60.28 447.12 63.00 447.00C65.72 446.88 67.98 447.12 70.50 447.60C73.02 448.08 76.00 449.47 78.10 449.90C80.20 450.33 81.00 450.68 83.10 450.20C85.20 449.72 88.18 448.58 90.70 447.00C93.22 445.42 96.10 442.70 98.20 440.70C100.30 438.70 101.83 436.78 103.30 435.00C104.77 433.22 106.30 430.83 107.00 430.00C107.70 429.17 106.17 431.88 107.50 430.00C108.83 428.12 112.50 421.67 115.00 418.75C117.50 415.83 120.00 413.96 122.50 412.50C125.00 411.04 127.71 410.33 130.00 410.00C132.29 409.67 133.75 409.88 136.25 410.50C138.75 411.12 141.88 412.67 145.00 413.75C148.12 414.83 151.67 415.54 155.00 417.00C158.33 418.46 161.67 420.54 165.00 422.50C168.33 424.46 171.67 426.46 175.00 428.75C178.33 431.04 181.67 433.12 185.00 436.25C188.33 439.38 191.67 443.75 195.00 447.50C198.33 451.25 202.08 455.21 205.00 458.75C207.92 462.29 210.00 465.83 212.50 468.75C215.00 471.67 217.50 474.17 220.00 476.25C222.50 478.33 225.00 478.54 227.50 481.25C230.00 483.96 232.92 489.38 235.00 492.50C237.08 495.62 238.33 497.29 240.00 500.00C241.67 502.71 243.12 506.25 245.00 508.75C246.88 511.25 249.17 513.54 251.25 515.00C253.33 516.46 255.21 517.17 257.50 517.50C259.79 517.83 262.50 517.83 265.00 517.00C267.50 516.17 269.58 514.29 272.50 512.50C275.42 510.71 279.17 508.00 282.50 506.25C285.83 504.50 289.17 503.25 292.50 502.00C295.83 500.75 299.17 499.58 302.50 498.75C305.83 497.92 309.17 498.25 312.50 497.00C315.83 495.75 319.17 493.25 322.50 491.25C325.83 489.25 329.17 486.67 332.50 485.00C335.83 483.33 339.58 482.42 342.50 481.25C345.42 480.08 347.50 478.83 350.00 478.00C352.50 477.17 355.00 477.38 357.50 476.25C360.00 475.12 362.08 473.54 365.00 471.25C367.92 468.96 371.67 465.42 375.00 462.50C378.33 459.58 382.08 456.46 385.00 453.75C387.92 451.04 390.21 448.21 392.50 446.25C394.79 444.29 396.67 443.04 398.75 442.00C400.83 440.96 402.92 440.33 405.00 440.00C407.08 439.67 409.17 439.38 411.25 440.00C413.33 440.62 415.42 441.88 417.50 443.75C419.58 445.62 421.67 448.12 423.75 451.25C425.83 454.38 427.71 458.75 430.00 462.50C432.29 466.25 435.00 470.62 437.50 473.75C440.00 476.88 442.08 479.29 445.00 481.25C447.92 483.21 451.67 484.25 455.00 485.50C458.33 486.75 461.67 487.92 465.00 488.75C468.33 489.58 471.67 490.38 475.00 490.50C478.33 490.62 482.50 489.92 485.00 489.50C487.50 489.08 487.08 488.96 490.00 488.00C492.92 487.04 497.92 484.58 502.50 483.75C507.08 482.92 512.92 483.54 517.50 483.00C522.08 482.46 526.46 481.62 530.00 480.50C533.54 479.38 536.17 478.00 538.75 476.25C541.33 474.50 543.42 471.25 545.50 470.00C547.58 468.75 549.25 468.12 551.25 468.75C553.25 469.38 555.21 472.29 557.50 473.75C559.79 475.21 562.08 475.96 565.00 477.50C567.92 479.04 572.08 481.75 575.00 483.00C577.92 484.25 579.58 484.46 582.50 485.00C585.42 485.54 589.79 485.62 592.50 486.25C595.21 486.88 596.67 487.62 598.75 488.75C600.83 489.88 602.71 491.83 605.00 493.00C607.29 494.17 610.00 495.08 612.50 495.75C615.00 496.42 617.71 496.79 620.00 497.00C622.29 497.21 624.38 496.29 626.25 497.00C628.12 497.71 629.38 499.29 631.25 501.25C633.12 503.21 635.42 506.25 637.50 508.75C639.58 511.25 641.67 514.50 643.75 516.25C645.83 518.00 648.12 518.83 650.00 519.25C651.88 519.67 652.92 519.67 655.00 518.75C657.08 517.83 660.00 515.62 662.50 513.75C665.00 511.88 667.50 509.79 670.00 507.50C672.50 505.21 675.00 503.12 677.50 500.00C680.00 496.88 682.50 493.33 685.00 488.75C687.50 484.17 690.00 478.12 692.50 472.50C695.00 466.88 697.50 460.42 700.00 455.00C702.50 449.58 705.00 444.17 707.50 440.00C710.00 435.83 712.50 432.83 715.00 430.00C717.50 427.17 720.00 424.88 722.50 423.00C725.00 421.12 727.83 419.67 730.00 418.75C732.17 417.83 732.92 418.21 735.50 417.50C738.08 416.79 742.17 415.42 745.50 414.50C748.83 413.58 752.17 412.75 755.50 412.00C758.83 411.25 762.17 410.25 765.50 410.00C768.83 409.75 772.17 410.00 775.50 410.50C778.83 411.00 782.58 411.83 785.50 413.00C788.42 414.17 790.08 415.50 793.00 417.50C795.92 419.50 799.67 422.42 803.00 425.00C806.33 427.58 809.67 430.58 813.00 433.00C816.33 435.42 819.67 437.29 823.00 439.50C826.33 441.71 829.67 444.17 833.00 446.25C836.33 448.33 839.67 450.33 843.00 452.00C846.33 453.67 849.67 455.21 853.00 456.25C856.33 457.29 859.67 457.83 863.00 458.25C866.33 458.67 869.67 458.54 873.00 458.75C876.33 458.96 879.67 459.29 883.00 459.50C886.33 459.71 889.67 459.79 893.00 460.00C896.33 460.21 899.67 460.54 903.00 460.75C906.33 460.96 910.08 461.46 913.00 461.25C915.92 461.04 918.00 460.12 920.50 459.50C923.00 458.88 925.50 457.83 928.00 457.50C930.50 457.17 933.00 457.79 935.50 457.50C938.00 457.21 940.50 456.29 943.00 455.75C945.50 455.21 948.00 454.29 950.50 454.25C953.00 454.21 955.50 454.88 958.00 455.50C960.50 456.12 964.25 457.58 965.50 458.00"/>
<path fill="none" stroke="#3f6fff" stroke-width="1.15" stroke-linejoin="round" d="M-2.00 457.00C-1.67 456.80 -1.38 456.93 0.00 455.80C1.38 454.67 4.20 451.67 6.30 450.20C8.40 448.73 10.28 448.17 12.60 447.00C14.92 445.83 17.68 443.83 20.20 443.20C22.72 442.57 25.18 442.72 27.70 443.20C30.22 443.68 32.98 445.12 35.30 446.10C37.62 447.08 39.50 448.60 41.60 449.10C43.70 449.60 45.80 449.38 47.90 449.10C50.00 448.82 51.90 448.17 54.20 447.40C56.50 446.63 59.40 444.35 61.70 444.50C64.00 444.65 65.90 446.93 68.00 448.30C70.10 449.67 72.42 451.60 74.30 452.70C76.18 453.80 78.03 454.90 79.30 454.90C80.57 454.90 80.85 454.33 81.90 452.70C82.95 451.07 84.13 447.10 85.60 445.10C87.07 443.10 89.02 442.58 90.70 440.70C92.38 438.82 94.55 435.58 95.70 433.80C96.85 432.02 96.47 433.13 97.60 430.00C98.73 426.87 100.43 419.38 102.50 415.00C104.57 410.62 107.92 406.04 110.00 403.75C112.08 401.46 112.92 401.25 115.00 401.25C117.08 401.25 120.00 402.71 122.50 403.75C125.00 404.79 127.71 405.42 130.00 407.50C132.29 409.58 134.17 414.25 136.25 416.25C138.33 418.25 140.42 419.21 142.50 419.50C144.58 419.79 146.25 417.29 148.75 418.00C151.25 418.71 154.79 421.75 157.50 423.75C160.21 425.75 162.50 427.92 165.00 430.00C167.50 432.08 170.42 435.00 172.50 436.25C174.58 437.50 175.42 435.62 177.50 437.50C179.58 439.38 182.50 444.17 185.00 447.50C187.50 450.83 190.00 453.96 192.50 457.50C195.00 461.04 197.50 465.21 200.00 468.75C202.50 472.29 205.00 475.29 207.50 478.75C210.00 482.21 212.71 488.25 215.00 489.50C217.29 490.75 219.17 485.33 221.25 486.25C223.33 487.17 225.62 491.46 227.50 495.00C229.38 498.54 230.62 503.12 232.50 507.50C234.38 511.88 237.33 518.17 238.75 521.25C240.17 524.33 240.62 525.21 241.00 526.00"/>
<path fill="none" stroke="#3f6fff" stroke-width="1.15" stroke-linejoin="round" d="M257.50 526.00C257.83 525.21 258.25 523.08 259.50 521.25C260.75 519.42 262.62 517.92 265.00 515.00C267.38 512.08 270.83 506.46 273.75 503.75C276.67 501.04 279.79 499.79 282.50 498.75C285.21 497.71 287.50 498.12 290.00 497.50C292.50 496.88 294.58 495.33 297.50 495.00C300.42 494.67 304.58 496.54 307.50 495.50C310.42 494.46 312.71 490.92 315.00 488.75C317.29 486.58 319.38 484.50 321.25 482.50C323.12 480.50 323.96 477.38 326.25 476.75C328.54 476.12 332.71 478.83 335.00 478.75C337.29 478.67 338.12 477.29 340.00 476.25C341.88 475.21 343.96 472.79 346.25 472.50C348.54 472.21 351.25 475.12 353.75 474.50C356.25 473.88 358.96 470.96 361.25 468.75C363.54 466.54 365.21 464.17 367.50 461.25C369.79 458.33 372.50 454.17 375.00 451.25C377.50 448.33 380.42 445.83 382.50 443.75C384.58 441.67 386.04 440.83 387.50 438.75C388.96 436.67 390.08 433.04 391.25 431.25C392.42 429.46 393.46 427.79 394.50 428.00C395.54 428.21 396.38 431.33 397.50 432.50C398.62 433.67 400.00 434.46 401.25 435.00C402.50 435.54 403.54 434.92 405.00 435.75C406.46 436.58 408.33 437.83 410.00 440.00C411.67 442.17 413.12 445.00 415.00 448.75C416.88 452.50 419.38 458.12 421.25 462.50C423.12 466.88 424.58 471.25 426.25 475.00C427.92 478.75 429.38 482.08 431.25 485.00C433.12 487.92 435.62 490.83 437.50 492.50C439.38 494.17 440.83 494.92 442.50 495.00C444.17 495.08 445.83 493.75 447.50 493.00C449.17 492.25 450.42 490.79 452.50 490.50C454.58 490.21 457.50 491.21 460.00 491.25C462.50 491.29 465.21 490.12 467.50 490.75C469.79 491.38 471.67 495.21 473.75 495.00C475.83 494.79 478.12 490.75 480.00 489.50C481.88 488.25 483.12 488.58 485.00 487.50C486.88 486.42 488.75 484.25 491.25 483.00C493.75 481.75 497.71 480.29 500.00 480.00C502.29 479.71 503.33 480.75 505.00 481.25C506.67 481.75 507.71 482.79 510.00 483.00C512.29 483.21 515.83 483.33 518.75 482.50C521.67 481.67 525.21 478.92 527.50 478.00C529.79 477.08 530.62 478.75 532.50 477.00C534.38 475.25 536.88 470.25 538.75 467.50C540.62 464.75 542.50 461.83 543.75 460.50C545.00 459.17 545.21 458.75 546.25 459.50C547.29 460.25 548.54 462.42 550.00 465.00C551.46 467.58 553.33 472.08 555.00 475.00C556.67 477.92 558.12 480.42 560.00 482.50C561.88 484.58 563.54 486.17 566.25 487.50C568.96 488.83 573.12 490.58 576.25 490.50C579.38 490.42 582.08 487.71 585.00 487.00C587.92 486.29 591.67 485.54 593.75 486.25C595.83 486.96 596.04 488.96 597.50 491.25C598.96 493.54 600.83 498.12 602.50 500.00C604.17 501.88 605.83 502.17 607.50 502.50C609.17 502.83 610.83 502.62 612.50 502.00C614.17 501.38 615.62 499.42 617.50 498.75C619.38 498.08 622.17 498.42 623.75 498.00C625.33 497.58 625.96 495.08 627.00 496.25C628.04 497.42 629.00 502.08 630.00 505.00C631.00 507.92 631.96 511.04 633.00 513.75C634.04 516.46 635.42 519.21 636.25 521.25C637.08 523.29 637.71 525.21 638.00 526.00"/>
<path fill="none" stroke="#3f6fff" stroke-width="1.15" stroke-linejoin="round" d="M650.50 526.00C650.83 525.21 651.75 523.08 652.50 521.25C653.25 519.42 653.96 517.50 655.00 515.00C656.04 512.50 657.50 508.75 658.75 506.25C660.00 503.75 661.04 501.67 662.50 500.00C663.96 498.33 665.83 498.12 667.50 496.25C669.17 494.38 671.25 490.29 672.50 488.75C673.75 487.21 673.75 489.29 675.00 487.00C676.25 484.71 678.33 479.50 680.00 475.00C681.67 470.50 683.33 465.21 685.00 460.00C686.67 454.79 688.33 448.54 690.00 443.75C691.67 438.96 693.33 434.71 695.00 431.25C696.67 427.79 697.92 425.29 700.00 423.00C702.08 420.71 704.79 418.50 707.50 417.50C710.21 416.50 713.96 417.62 716.25 417.00C718.54 416.38 719.38 414.50 721.25 413.75C723.12 413.00 725.33 412.92 727.50 412.50C729.67 412.08 732.08 411.25 734.25 411.25C736.42 411.25 738.21 412.38 740.50 412.50C742.79 412.62 746.12 412.50 748.00 412.00C749.88 411.50 750.62 410.46 751.75 409.50C752.88 408.54 753.50 406.50 754.75 406.25C756.00 406.00 757.46 407.88 759.25 408.00C761.04 408.12 763.21 406.46 765.50 407.00C767.79 407.54 770.50 410.12 773.00 411.25C775.50 412.38 778.21 412.71 780.50 413.75C782.79 414.79 784.25 415.00 786.75 417.50C789.25 420.00 792.79 425.92 795.50 428.75C798.21 431.58 800.92 433.25 803.00 434.50C805.08 435.75 805.92 434.71 808.00 436.25C810.08 437.79 813.00 442.08 815.50 443.75C818.00 445.42 820.50 444.88 823.00 446.25C825.50 447.62 828.00 450.33 830.50 452.00C833.00 453.67 836.12 455.54 838.00 456.25C839.88 456.96 840.08 455.62 841.75 456.25C843.42 456.88 845.71 459.17 848.00 460.00C850.29 460.83 853.00 461.17 855.50 461.25C858.00 461.33 860.71 460.83 863.00 460.50C865.29 460.17 867.17 459.42 869.25 459.25C871.33 459.08 873.62 459.29 875.50 459.50C877.38 459.71 878.62 460.50 880.50 460.50C882.38 460.50 884.67 459.50 886.75 459.50C888.83 459.50 890.71 460.21 893.00 460.50C895.29 460.79 898.00 460.92 900.50 461.25C903.00 461.58 906.12 462.38 908.00 462.50C909.88 462.62 910.29 463.04 911.75 462.00C913.21 460.96 915.21 457.54 916.75 456.25C918.29 454.96 919.54 454.46 921.00 454.25C922.46 454.04 923.92 454.46 925.50 455.00C927.08 455.54 929.04 456.88 930.50 457.50C931.96 458.12 932.79 459.17 934.25 458.75C935.71 458.33 937.58 456.17 939.25 455.00C940.92 453.83 942.71 452.38 944.25 451.75C945.79 451.12 947.04 450.71 948.50 451.25C949.96 451.79 951.42 453.75 953.00 455.00C954.58 456.25 955.92 457.42 958.00 458.75C960.08 460.08 964.25 462.29 965.50 463.00"/>
</g>
<line x1="0" x2="1024" y1="400.4" y2="400.4" stroke="#e0e3eb" stroke-width="1"/>
<rect x="984" y="0" width="40" height="540" fill="#fff"/>
<line x1="0" x2="1024" y1="400.4" y2="400.4" stroke="#e0e3eb" stroke-width="1"/>
<line x1="983.5" x2="983.5" y1="0" y2="540" stroke="#727272" stroke-width="1"/>
<line x1="0" x2="1024" y1="521.6" y2="521.6" stroke="#757575" stroke-width="1"/>
<text x="989.8" y="68.25" font-size="8.6" fill="#525252" font-weight="normal" textLength="29.6" lengthAdjust="spacingAndGlyphs">111,000</text>
<text x="989.8" y="91.55" font-size="8.6" fill="#525252" font-weight="normal" textLength="29.6" lengthAdjust="spacingAndGlyphs">110,000</text>
<text x="989.8" y="138.45" font-size="8.6" fill="#525252" font-weight="normal" textLength="29.6" lengthAdjust="spacingAndGlyphs">108,000</text>
<text x="989.8" y="208.75" font-size="8.6" fill="#525252" font-weight="normal" textLength="29.6" lengthAdjust="spacingAndGlyphs">105,000</text>
<text x="989.8" y="232.25" font-size="8.6" fill="#525252" font-weight="normal" textLength="29.6" lengthAdjust="spacingAndGlyphs">104,000</text>
<text x="989.8" y="279.15" font-size="8.6" fill="#525252" font-weight="normal" textLength="29.6" lengthAdjust="spacingAndGlyphs">102,000</text>
<text x="989.8" y="326.15" font-size="8.6" fill="#525252" font-weight="normal" textLength="29.6" lengthAdjust="spacingAndGlyphs">100,000</text>
<text x="989.8" y="349.45" font-size="8.6" fill="#525252" font-weight="normal" textLength="25.2" lengthAdjust="spacingAndGlyphs">99,000</text>
<text x="989.8" y="372.85" font-size="8.6" fill="#525252" font-weight="normal" textLength="25.2" lengthAdjust="spacingAndGlyphs">98,000</text>
<text x="989.8" y="396.25" font-size="8.6" fill="#525252" font-weight="normal" textLength="25.2" lengthAdjust="spacingAndGlyphs">97,000</text>
<text x="989.8" y="426.25" font-size="8.6" fill="#525252" font-weight="normal" textLength="13.7" lengthAdjust="spacingAndGlyphs">800</text>
<text x="989.8" y="492.85" font-size="8.6" fill="#525252" font-weight="normal" textLength="17.7" lengthAdjust="spacingAndGlyphs">−400</text>
<text x="989.8" y="515.25" font-size="8.6" fill="#525252" font-weight="normal" textLength="17.7" lengthAdjust="spacingAndGlyphs">−800</text>
<rect x="983" y="38.5" width="41" height="11.200000000000003" rx="1.5" fill="#000"/>
<text x="990.2" y="46.78" font-size="8.7" fill="#fff" font-weight="bold" textLength="30.4" lengthAdjust="spacingAndGlyphs">111,944</text>
<rect x="983" y="73.7" width="41" height="11.199999999999989" rx="1.5" fill="#000"/>
<text x="990.2" y="81.98" font-size="8.7" fill="#fff" font-weight="bold" textLength="30.4" lengthAdjust="spacingAndGlyphs">110,448</text>
<rect x="983" y="107.60000000000001" width="41" height="11.199999999999989" rx="1.5" fill="#000"/>
<text x="990.2" y="115.88" font-size="8.7" fill="#fff" font-weight="bold" textLength="30.4" lengthAdjust="spacingAndGlyphs">108,980</text>
<rect x="983" y="208.6" width="41" height="11.199999999999989" rx="1.5" fill="#000"/>
<text x="990.2" y="216.88" font-size="8.7" fill="#fff" font-weight="bold" textLength="30.4" lengthAdjust="spacingAndGlyphs">104,687</text>
<rect x="983" y="248.70000000000002" width="41" height="11.200000000000017" rx="1.5" fill="#000"/>
<text x="990.2" y="256.98" font-size="8.7" fill="#fff" font-weight="bold" textLength="30.4" lengthAdjust="spacingAndGlyphs">102,979</text>
<rect x="983" y="296.5" width="41" height="11.200000000000045" rx="1.5" fill="#000"/>
<text x="990.2" y="304.78" font-size="8.7" fill="#fff" font-weight="bold" textLength="30.4" lengthAdjust="spacingAndGlyphs">100,929</text>
<rect x="983" y="142.9" width="41" height="22.299999999999983" rx="1.5" fill="#d8533f"/>
<text x="990.2" y="151.38" font-size="8.7" fill="#fff" font-weight="bold" textLength="30.4" lengthAdjust="spacingAndGlyphs">107,477</text>
<text x="989.6" y="161.25" font-size="8.6" fill="#fff" font-weight="normal" textLength="33.4" lengthAdjust="spacingAndGlyphs">01:22:52</text>
<rect x="983" y="165.2" width="41" height="11.800000000000011" rx="1.5" fill="#2962ff"/>
<text x="990.2" y="173.78" font-size="8.7" fill="#fff" font-weight="bold" textLength="30.4" lengthAdjust="spacingAndGlyphs">107,344</text>
<rect x="983" y="177" width="41" height="11.599999999999994" rx="1.5" fill="#4caf50"/>
<text x="990.2" y="185.58" font-size="8.7" fill="#fff" font-weight="bold" textLength="30.4" lengthAdjust="spacingAndGlyphs">106,450</text>
<rect x="983" y="442.3" width="24" height="11.5" rx="1.5" fill="#ff6d00"/>
<text x="990.2" y="450.86" font-size="9.2" fill="#fff" font-weight="normal" textLength="13.3" lengthAdjust="spacingAndGlyphs">164</text>
<rect x="983" y="454.2" width="19.5" height="11.800000000000011" rx="1.5" fill="#2962ff"/>
<text x="990" y="462.96" font-size="9.2" fill="#fff" font-weight="normal" textLength="9.3" lengthAdjust="spacingAndGlyphs">80</text>
<rect x="983" y="466.6" width="24" height="12.0" rx="1.5" fill="#ff5252"/>
<text x="990.4" y="475.46" font-size="9.2" fill="#fff" font-weight="normal" textLength="13.1" lengthAdjust="spacingAndGlyphs">−84</text>
<text x="24.9" y="534.05" font-size="8.6" fill="#525252" font-weight="normal" textLength="4.9" lengthAdjust="spacingAndGlyphs">8</text>
<text x="66.5" y="534.05" font-size="8.6" fill="#525252" font-weight="normal" textLength="4.9" lengthAdjust="spacingAndGlyphs">9</text>
<text x="105.6" y="534.05" font-size="8.6" fill="#525252" font-weight="normal" textLength="9.8" lengthAdjust="spacingAndGlyphs">10</text>
<text x="147.2" y="534.05" font-size="8.6" fill="#525252" font-weight="normal" textLength="9.8" lengthAdjust="spacingAndGlyphs">11</text>
<text x="188.7" y="534.05" font-size="8.6" fill="#525252" font-weight="normal" textLength="9.8" lengthAdjust="spacingAndGlyphs">12</text>
<text x="230.3" y="534.05" font-size="8.6" fill="#525252" font-weight="normal" textLength="9.8" lengthAdjust="spacingAndGlyphs">13</text>
<text x="271.8" y="534.05" font-size="8.6" fill="#525252" font-weight="normal" textLength="9.8" lengthAdjust="spacingAndGlyphs">14</text>
<text x="313.4" y="534.05" font-size="8.6" fill="#525252" font-weight="normal" textLength="9.8" lengthAdjust="spacingAndGlyphs">15</text>
<text x="355.0" y="534.05" font-size="8.6" fill="#525252" font-weight="normal" textLength="9.8" lengthAdjust="spacingAndGlyphs">16</text>
<text x="396.5" y="534.05" font-size="8.6" fill="#525252" font-weight="normal" textLength="9.8" lengthAdjust="spacingAndGlyphs">17</text>
<text x="438.1" y="534.05" font-size="8.6" fill="#525252" font-weight="normal" textLength="9.8" lengthAdjust="spacingAndGlyphs">18</text>
<text x="479.6" y="534.05" font-size="8.6" fill="#525252" font-weight="normal" textLength="9.8" lengthAdjust="spacingAndGlyphs">19</text>
<text x="521.2" y="534.05" font-size="8.6" fill="#525252" font-weight="normal" textLength="9.8" lengthAdjust="spacingAndGlyphs">20</text>
<text x="562.8" y="534.05" font-size="8.6" fill="#525252" font-weight="normal" textLength="9.8" lengthAdjust="spacingAndGlyphs">21</text>
<text x="604.3" y="534.05" font-size="8.6" fill="#525252" font-weight="normal" textLength="9.8" lengthAdjust="spacingAndGlyphs">22</text>
<text x="645.9" y="534.05" font-size="8.6" fill="#525252" font-weight="normal" textLength="9.8" lengthAdjust="spacingAndGlyphs">23</text>
<text x="687.4" y="534.05" font-size="8.6" fill="#525252" font-weight="normal" textLength="9.8" lengthAdjust="spacingAndGlyphs">24</text>
<text x="729.0" y="534.05" font-size="8.6" fill="#525252" font-weight="normal" textLength="9.8" lengthAdjust="spacingAndGlyphs">25</text>
<text x="770.6" y="534.05" font-size="8.6" fill="#525252" font-weight="normal" textLength="9.8" lengthAdjust="spacingAndGlyphs">26</text>
<text x="812.1" y="534.05" font-size="8.6" fill="#525252" font-weight="normal" textLength="9.8" lengthAdjust="spacingAndGlyphs">27</text>
<text x="853.7" y="534.05" font-size="8.6" fill="#525252" font-weight="normal" textLength="9.8" lengthAdjust="spacingAndGlyphs">28</text>
<text x="895.2" y="534.05" font-size="8.6" fill="#525252" font-weight="normal" textLength="9.8" lengthAdjust="spacingAndGlyphs">29</text>
<text x="936.8" y="534.05" font-size="8.6" fill="#525252" font-weight="normal" textLength="9.8" lengthAdjust="spacingAndGlyphs">30</text>
<g clip-path="url(#cj)"><clipPath id="cj"><rect x="970" y="522" width="13" height="18"/></clipPath>
<text x="977" y="534.05" font-size="8.6" fill="#525252" font-weight="normal" textLength="11.0" lengthAdjust="spacingAndGlyphs">Jul</text>
</g>
<polygon points="1012.90,531.40 1010.20,536.08 1004.80,536.08 1002.10,531.40 1004.80,526.72 1010.20,526.72" fill="none" stroke="#555" stroke-width="0.9"/><circle cx="1007.5" cy="531.4" r="1.5" fill="none" stroke="#555" stroke-width="0.9"/>
<rect x="986" y="1.5" width="44" height="17.6" rx="3" fill="#fff" stroke="#e4e6ec" stroke-width="0.8"/>
<text x="989" y="13.42" font-size="8.8" fill="#4a4a4a" font-weight="normal" textLength="14.8" lengthAdjust="spacingAndGlyphs">USD</text>
<path d="M1020.5 9.8l2 2 2-2" fill="none" stroke="#444" stroke-width="1"/>
<circle cx="9.4" cy="9.4" r="6.5" fill="#f7931a"/>
<text x="9.5" y="12.6" font-size="9" font-weight="bold" fill="#fff" text-anchor="middle" transform="rotate(12 9.4 9.4)">₿</text>
<text x="19.1" y="13.60" font-size="10" fill="#464646" font-weight="normal" textLength="35.1" lengthAdjust="spacingAndGlyphs" stroke="#464646" stroke-width="0.25">Bitcoin</text>
<text x="59.4" y="13.60" font-size="10" fill="#464646" font-weight="normal" textLength="3.6" lengthAdjust="spacingAndGlyphs" stroke="#464646" stroke-width="0.25">/</text>
<text x="68" y="13.60" font-size="10" fill="#464646" font-weight="normal" textLength="22.0" lengthAdjust="spacingAndGlyphs" stroke="#464646" stroke-width="0.25">U.S.</text>
<text x="93.8" y="13.60" font-size="10" fill="#464646" font-weight="normal" textLength="29.0" lengthAdjust="spacingAndGlyphs" stroke="#464646" stroke-width="0.25">Dollar</text>
<text x="125.6" y="13.60" font-size="10" fill="#464646" font-weight="normal" textLength="2.2" lengthAdjust="spacingAndGlyphs" stroke="#464646" stroke-width="0.25">·</text>
<text x="132.5" y="13.60" font-size="10" fill="#464646" font-weight="normal" textLength="12.0" lengthAdjust="spacingAndGlyphs" stroke="#464646" stroke-width="0.25">2h</text>
<text x="148.2" y="13.60" font-size="10" fill="#464646" font-weight="normal" textLength="2.2" lengthAdjust="spacingAndGlyphs" stroke="#464646" stroke-width="0.25">·</text>
<text x="153.8" y="13.60" font-size="10" fill="#464646" font-weight="normal" textLength="47.4" lengthAdjust="spacingAndGlyphs" stroke="#464646" stroke-width="0.25">BITSTAMP</text>
<circle cx="219.5" cy="10" r="6" fill="#d3ece7"/><circle cx="219.5" cy="10" r="2.6" fill="#089981"/>
<text x="238.1" y="13.35" font-size="8.6" fill="#5a5a5a" font-weight="normal" textLength="5.5" lengthAdjust="spacingAndGlyphs">O</text>
<text x="244.2" y="13.35" font-size="8.6" fill="#a8453a" font-weight="normal" textLength="33.4" lengthAdjust="spacingAndGlyphs">107,549</text>
<text x="282.9" y="13.35" font-size="8.6" fill="#5a5a5a" font-weight="normal" textLength="5.5" lengthAdjust="spacingAndGlyphs">H</text>
<text x="289.2" y="13.35" font-size="8.6" fill="#a8453a" font-weight="normal" textLength="33.3" lengthAdjust="spacingAndGlyphs">107,643</text>
<text x="327.6" y="13.35" font-size="8.6" fill="#5a5a5a" font-weight="normal" textLength="3.8" lengthAdjust="spacingAndGlyphs">L</text>
<text x="332.6" y="13.35" font-size="8.6" fill="#a8453a" font-weight="normal" textLength="32.2" lengthAdjust="spacingAndGlyphs">107,174</text>
<text x="370.6" y="13.35" font-size="8.6" fill="#5a5a5a" font-weight="normal" textLength="5.4" lengthAdjust="spacingAndGlyphs">C</text>
<text x="377" y="13.35" font-size="8.6" fill="#a8453a" font-weight="normal" textLength="32.2" lengthAdjust="spacingAndGlyphs">107,477</text>
<text x="414.4" y="13.35" font-size="8.6" fill="#a8453a" font-weight="normal" textLength="13.0" lengthAdjust="spacingAndGlyphs">−73</text>
<text x="431.8" y="13.35" font-size="8.6" fill="#a8453a" font-weight="normal" textLength="34.4" lengthAdjust="spacingAndGlyphs">(−0.07%)</text>
<rect x="2.5" y="21.9" width="48.8" height="24" rx="4" fill="#fff" stroke="#f4707a" stroke-width="0.9"/>
<text x="11" y="32.32" font-size="8.8" fill="#f23645" font-weight="bold" textLength="32.4" lengthAdjust="spacingAndGlyphs">107,464</text>
<text x="18.4" y="41.51" font-size="7.4" fill="#f23645" font-weight="normal" textLength="16.2" lengthAdjust="spacingAndGlyphs">SELL</text>
<text x="57.4" y="35.76" font-size="7.8" fill="#222" font-weight="normal" textLength="3.4" lengthAdjust="spacingAndGlyphs">1</text>
<rect x="67.3" y="21.9" width="48.6" height="24" rx="4" fill="#fff" stroke="#6f8fff" stroke-width="0.9"/>
<text x="75.6" y="32.32" font-size="8.8" fill="#2962ff" font-weight="bold" textLength="32.4" lengthAdjust="spacingAndGlyphs">107,465</text>
<text x="84.2" y="41.51" font-size="7.4" fill="#2962ff" font-weight="normal" textLength="13.4" lengthAdjust="spacingAndGlyphs">BUY</text>
<text x="3.1" y="60.97" font-size="8.4" fill="#505050" font-weight="normal" textLength="93.9" lengthAdjust="spacingAndGlyphs">EMA 50 close 0 EMA 50</text>
<circle cx="109.3" cy="58.1" r="6" fill="#ece4fb"/>
<g transform="translate(0 0.4)"><path d="M105.9 56.9a3.5 3.5 0 0 1 6.3-1.4M112.7 58.5a3.5 3.5 0 0 1-6.3 1.4" fill="none" stroke="#6a3df0" stroke-width="1.2"/><path d="M112.9 53.6v2.4h-2.4zM105.7 61.8v-2.4h2.4z" fill="#6a3df0"/></g>
<text x="121.5" y="61.05" font-size="8.6" fill="#2962ff" font-weight="normal" textLength="33.5" lengthAdjust="spacingAndGlyphs">107,344</text>
<rect x="1.3" y="68.8" width="20" height="13.8" rx="2.5" fill="#fff" stroke="#e6e8ee" stroke-width="0.8"/>
<path d="M8.4 76.6l2.9-2.9 2.9 2.9" fill="none" stroke="#333" stroke-width="1.1"/>
<text x="3" y="415.07" font-size="8.4" fill="#505050" font-weight="normal" textLength="71.5" lengthAdjust="spacingAndGlyphs">MACD 12 26 close</text>
<text x="82.5" y="415.15" font-size="8.6" fill="#ff6b6b" font-weight="normal" textLength="13.0" lengthAdjust="spacingAndGlyphs">−84</text>
<text x="100.8" y="415.15" font-size="8.6" fill="#2962ff" font-weight="normal" textLength="9.2" lengthAdjust="spacingAndGlyphs">80</text>
<text x="115" y="415.15" font-size="8.6" fill="#ff6d00" font-weight="normal" textLength="14.2" lengthAdjust="spacingAndGlyphs">164</text>
<g transform="translate(5.3 499.9) scale(0.587)" fill="#111"><path d="M14 18.5H7V7.5H0V0h14z"/><circle cx="20" cy="4" r="4"/><path d="M28 18.5h-8L27.7 0h8z"/></g>
<text x="32.2" y="510.2" font-size="13.4" fill="#111" stroke="#111" stroke-width="0.55" textLength="86.5" lengthAdjust="spacingAndGlyphs">TradingView</text>
<circle cx="966.3" cy="390.4" r="7.3" fill="none" stroke="#b044c8" stroke-width="1.2"/>
<path d="M969.3 386.8L963.6 391.9L966.6 391.5L963.7 395L969.6 389.9L966.5 390.3z" fill="#a23cc0" stroke="#a23cc0" stroke-width="0.4" stroke-linejoin="round"/>
<circle cx="958.3" cy="393.2" r="4.2" fill="#fff"/>
<path d="M958.3 389.6q.5 3.1 3.6 3.6q-3.1.5-3.6 3.6q-.5-3.1-3.6-3.6q3.1-.5 3.6-3.6z" fill="#5b4dff"/>
<circle cx="971" cy="385.4" r="2.6" fill="#fff"/><circle cx="971" cy="385.4" r="1.9" fill="#f23645"/>
</svg>
</body></html>
